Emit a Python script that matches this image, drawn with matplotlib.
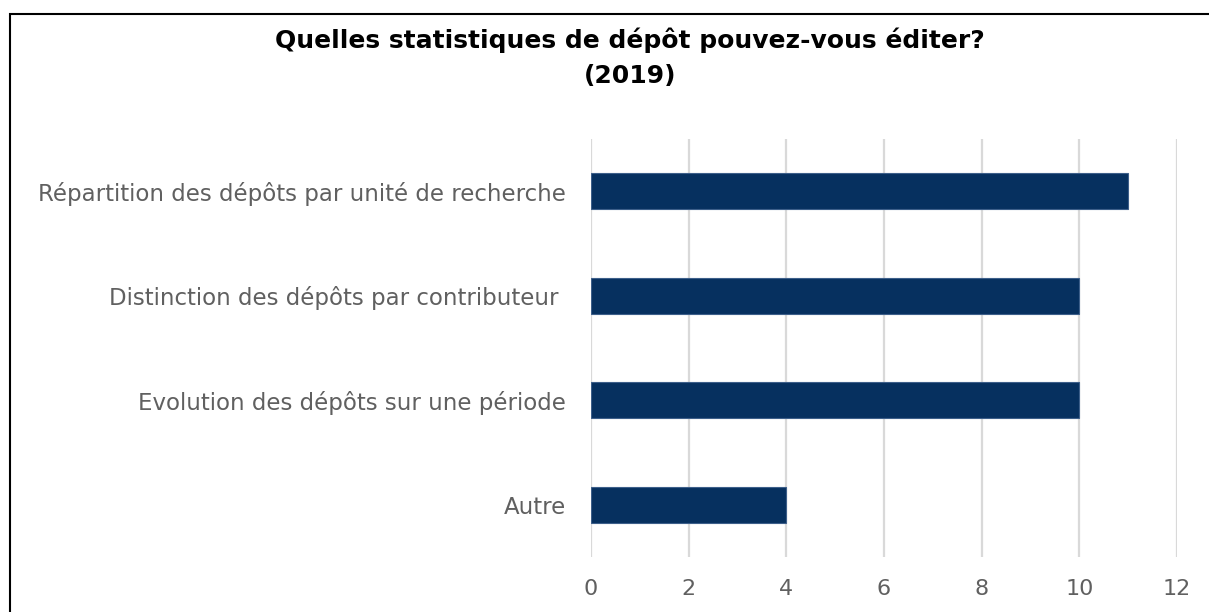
import matplotlib.pyplot as plt
from matplotlib.patches import Rectangle

categories = [
    "Répartition des dépôts par unité de recherche",
    "Distinction des dépôts par contributeur ",
    "Evolution des dépôts sur une période",
    "Autre",
]
values = [11, 10, 10, 4]
xticks = [0, 2, 4, 6, 8, 10, 12]

bar_color = "#06305f"
grey = "#606060"

plt.rcParams["font.family"] = ["DejaVu Sans"]

fig = plt.figure(figsize=(12.09, 6.12), dpi=100)
ax = fig.add_axes([591 / 1209, 1 - 557 / 612, (1177 - 591) / 1209, (557 - 139) / 612])

y = list(range(len(categories)))
ax.barh(y, values, height=0.345, color=bar_color, edgecolor="#3d5f8a", linewidth=0.8, zorder=3)
ax.set_ylim(len(categories) - 0.5, -0.5)
ax.set_xlim(0, 12)
ax.set_xticks(xticks)
ax.set_yticks(y)
ax.set_yticklabels(categories, fontsize=16.5, color=grey)
ax.tick_params(axis="x", labelsize=16, labelcolor=grey, length=0, pad=16)
ax.tick_params(axis="y", length=0, pad=18)
ax.grid(axis="x", color="#d9d9d9", linewidth=1.6, zorder=0)
for s in ax.spines.values():
    s.set_visible(False)

fig.text(630 / 1209, 1 - 40 / 612, "Quelles statistiques de dépôt pouvez-vous éditer?",
         ha="center", va="center", fontsize=18, fontweight="bold", color="black")
fig.text(630 / 1209, 1 - 76 / 612, "(2019)",
         ha="center", va="center", fontsize=18, fontweight="bold", color="black")

# outer frame, runs off the right and bottom edges
fig.patches.append(Rectangle((9.5 / 1209, -0.05), 1.1, 1 - 13.5 / 612 + 0.05,
                             transform=fig.transFigure, fill=False,
                             edgecolor="black", linewidth=1.5))

fig.savefig("out.png", dpi=100)
